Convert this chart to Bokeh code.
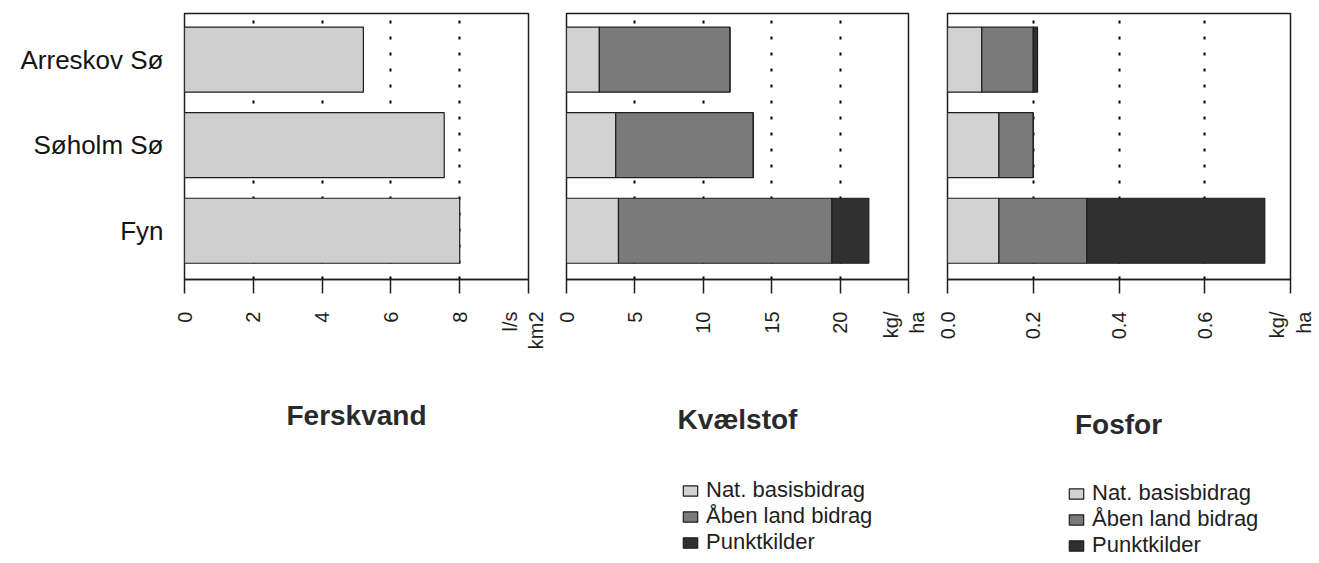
import math

from bokeh.embed import file_html
from bokeh.layouts import column, row
from bokeh.models import (ColumnDataSource, FixedTicker, Label, Legend,
                          LegendItem, Range1d)
from bokeh.plotting import figure
from bokeh.resources import INLINE

# Areas, listed bottom to top
lakes = ["Fyn", "Søholm Sø", "Arreskov Sø"]

# Freshwater runoff (l/s per km2)
ferskvand = [8.0, 7.55, 5.2]

# Nitrogen load (kg/ha) by source
kvaelstof_nat = [3.8, 3.6, 2.4]
kvaelstof_aaben = [15.6, 10.05, 9.55]
kvaelstof_punkt = [2.7, 0.0, 0.0]

# Phosphorus load (kg/ha) by source
fosfor_nat = [0.12, 0.12, 0.08]
fosfor_aaben = [0.205, 0.08, 0.12]
fosfor_punkt = [0.415, 0.0, 0.01]

ferskvand_ticks = [0, 2, 4, 6, 8, 10]
ferskvand_tick_labels = ["0", "2", "4", "6", "8", "l/s\nkm2"]
kvaelstof_ticks = [0, 5, 10, 15, 20, 25]
kvaelstof_tick_labels = ["0", "5", "10", "15", "20", "kg/\nha"]
fosfor_ticks = [0.0, 0.2, 0.4, 0.6, 0.8]
fosfor_tick_labels = ["0.0", "0.2", "0.4", "0.6", "kg/\nha"]

panel_titles = ["Ferskvand", "Kvælstof", "Fosfor"]
source_names = ["Nat. basisbidrag", "Åben land bidrag", "Punktkilder"]

FONT = "Liberation Sans"
INK = "#1e1e1e"
SOURCE_COLORS = ["#d2d2d2", "#7a7a7a", "#303030"]
BAR_H = 0.76

TOP = 13
FRAME_H = 266
CHART_H = 380              # height of the chart row
CAPTION_H = 563 - CHART_H  # height of the caption row (titles + legends)


def make_panel(frame_w, left, right, ticks, tick_labels, show_lakes):
    p = figure(
        frame_width=frame_w, frame_height=FRAME_H,
        min_border_left=left, min_border_right=right,
        min_border_top=TOP, min_border_bottom=CHART_H - TOP - FRAME_H,
        x_range=Range1d(ticks[0], ticks[-1]),
        y_range=Range1d(-0.57, 2.54),
        output_backend="svg", toolbar_location=None,
        background_fill_color="white", border_fill_color="white",
    )
    p.outline_line_color = INK
    p.outline_line_width = 1.5

    # dotted reference lines at the interior ticks
    p.xgrid.ticker = FixedTicker(ticks=ticks[1:-1])
    p.xgrid.grid_line_color = "black"
    p.xgrid.grid_line_width = 2
    p.xgrid.grid_line_dash = "3 13"
    p.ygrid.visible = False

    ax = p.xaxis[0]
    ax.ticker = FixedTicker(ticks=ticks)
    ax.major_label_overrides = dict(zip(ticks, tick_labels))
    ax.major_label_orientation = math.pi / 2
    ax.major_tick_out = 14
    ax.major_tick_in = 0
    ax.minor_tick_line_color = None
    ax.axis_line_color = INK
    ax.axis_line_width = 1.5
    ax.major_tick_line_color = INK
    ax.major_tick_line_width = 1.5
    ax.major_label_standoff = 18
    ax.major_label_text_font = FONT
    ax.major_label_text_font_size = "20px"
    ax.major_label_text_color = INK

    yax = p.yaxis[0]
    if show_lakes:
        positions = list(range(len(lakes)))
        yax.ticker = FixedTicker(ticks=positions)
        yax.major_label_overrides = dict(zip(positions, lakes))
        yax.major_tick_out = 0
        yax.major_tick_in = 0
        yax.minor_tick_line_color = None
        yax.axis_line_color = None
        yax.major_label_standoff = 21
        yax.major_label_text_font = FONT
        yax.major_label_text_font_size = "26px"
        yax.major_label_text_color = "#141414"
    else:
        yax.visible = False
    return p


def make_caption(width, title, title_x, title_y):
    """Strip under a chart holding its title (and legend), in pixel units."""
    c = figure(
        width=width, height=CAPTION_H,
        x_range=Range1d(0, width), y_range=Range1d(0, CAPTION_H),
        x_axis_location=None, y_axis_location=None,
        min_border=0, output_backend="svg", toolbar_location=None,
        background_fill_color="white", border_fill_color="white",
    )
    c.outline_line_color = None
    c.grid.visible = False
    c.add_layout(Label(
        x=title_x, y=title_y, text=title,
        text_align="center", text_baseline="alphabetic",
        text_font=FONT, text_font_size="28px", text_font_style="bold",
        text_color="#2a2a2a",
    ))
    return c


def add_legend(c, vx, vy):
    # legend swatches: one bar per source, parked below the visible strip
    swatches = [
        c.hbar(y=[-100], left=[0], right=[1], height=1, fill_color=col,
               line_color=INK, line_width=1.2)
        for col in SOURCE_COLORS
    ]
    legend = Legend(
        items=[LegendItem(label=n, renderers=[r]) for n, r in zip(source_names, swatches)],
        location=(vx, vy), orientation="vertical",
        padding=0, margin=0, spacing=0,
        glyph_width=18, glyph_height=13, label_standoff=7, label_height=22,
        label_text_font=FONT, label_text_font_size="22px", label_text_color=INK,
        border_line_color=None, background_fill_alpha=0,
    )
    c.add_layout(legend)


ypos = list(range(len(lakes)))

# Panel 1: freshwater runoff
p1 = make_panel(344, 184, 19, ferskvand_ticks, ferskvand_tick_labels, True)
src1 = ColumnDataSource(dict(y=ypos, value=ferskvand))
p1.hbar(y="y", left=0, right="value", height=BAR_H, source=src1,
        fill_color="#cfcfcf", line_color=INK, line_width=1.2)

# Panel 2: nitrogen
p2 = make_panel(342, 19, 20, kvaelstof_ticks, kvaelstof_tick_labels, False)
src2 = ColumnDataSource(dict(y=ypos, nat=kvaelstof_nat, aaben=kvaelstof_aaben,
                             punkt=kvaelstof_punkt))
p2.hbar_stack(["nat", "aaben", "punkt"], y="y", height=BAR_H, source=src2,
              fill_color=SOURCE_COLORS, line_color=INK, line_width=1.2)

# Panel 3: phosphorus
p3 = make_panel(343, 19, 29, fosfor_ticks, fosfor_tick_labels, False)
src3 = ColumnDataSource(dict(y=ypos, nat=fosfor_nat, aaben=fosfor_aaben,
                             punkt=fosfor_punkt))
p3.hbar_stack(["nat", "aaben", "punkt"], y="y", height=BAR_H, source=src3,
              fill_color=SOURCE_COLORS, line_color=INK, line_width=1.2)

# Captions: titles and source legends
c1 = make_caption(547, panel_titles[0], 356, 148)
c2 = make_caption(381, panel_titles[1], 190, 144)
add_legend(c2, 134, 8)
c3 = make_caption(391, panel_titles[2], 190, 139)
add_legend(c3, 139, 5)

layout = column(row(p1, p2, p3, spacing=0), row(c1, c2, c3, spacing=0), spacing=0)

with open("out.html", "w") as f:
    f.write(file_html(layout, INLINE))
